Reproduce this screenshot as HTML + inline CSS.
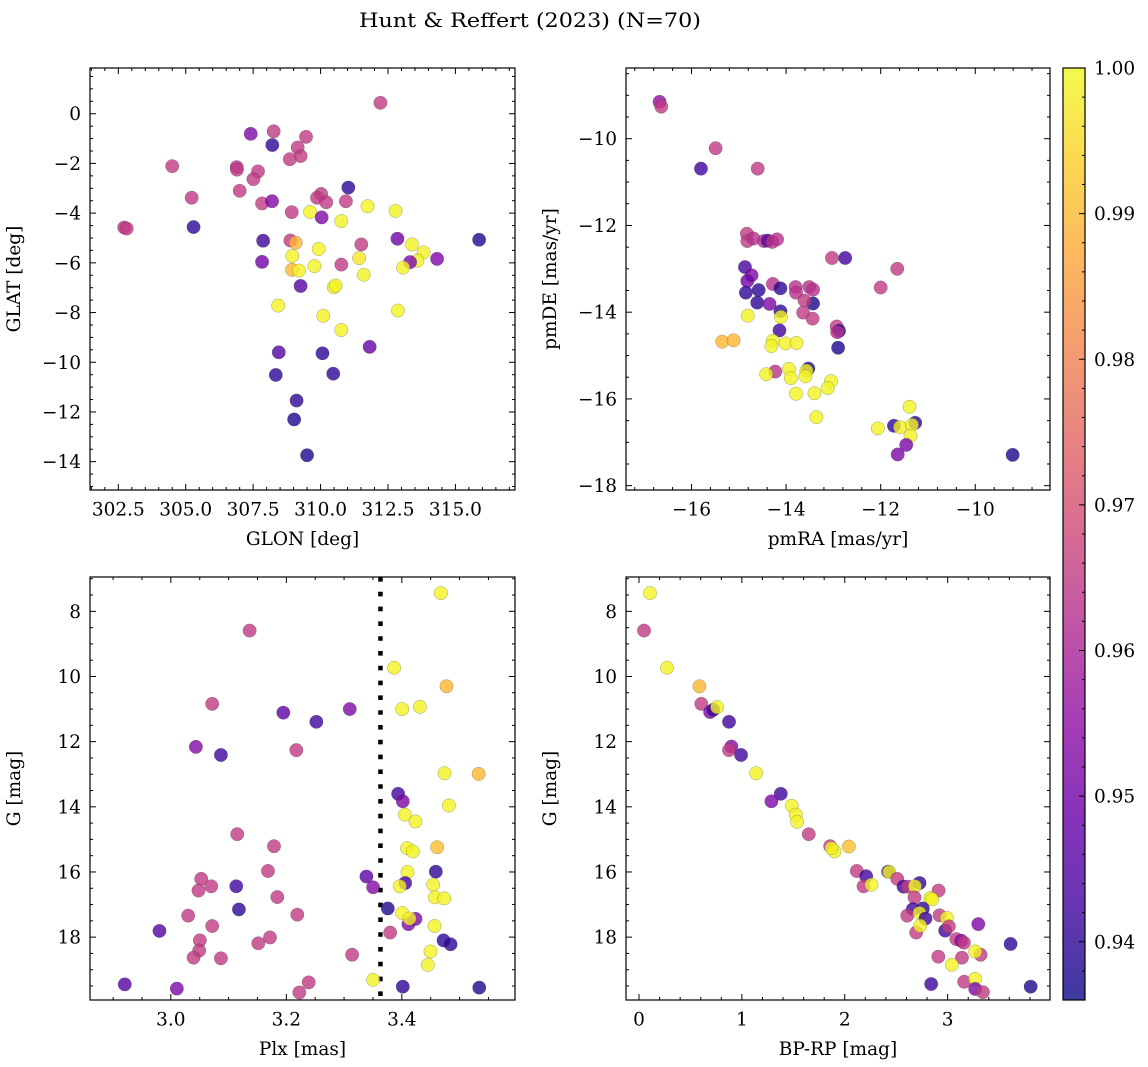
<!DOCTYPE html>
<html><head><meta charset="utf-8"><title>Hunt &amp; Reffert (2023)</title>
<style>
html,body{margin:0;padding:0;background:#fff;}
svg{display:block;font-family:"DejaVu Serif","Liberation Serif",serif;}
</style></head>
<body>
<svg id="fig" xmlns="http://www.w3.org/2000/svg" width="1148" height="1067" viewBox="0 0 1148 1067">
<rect x="0" y="0" width="1148" height="1067" fill="#fff"/>
<text x="530" y="27" font-size="19.5" text-anchor="middle" fill="#000" textLength="342" lengthAdjust="spacingAndGlyphs">Hunt &amp; Reffert (2023) (N=70)</text>
<defs>
<linearGradient id="plasmaGrad" x1="0" y1="1" x2="0" y2="0"></linearGradient>
</defs>
</svg>
<script>
// ---- Panel 1: GLON vs GLAT ----
const glon = [312.22,307.41,308.26,308.21,309.46,309.15,309.26,308.86,304.50,306.89,306.90,307.68,307.51,307.00,305.22,307.83,308.20,311.03,310.02,309.87,310.21,310.94,308.93,309.61,310.04,310.77,311.74,312.78,302.72,302.81,305.29,307.87,308.88,309.08,309.93,311.51,312.85,313.39,313.82,313.59,313.32,314.32,315.88,307.83,308.95,311.43,310.77,309.77,308.94,309.20,311.60,313.06,309.26,310.49,310.56,308.43,312.87,310.10,310.77,308.45,310.07,311.82,308.34,310.47,309.11,309.02,309.50];
const glat = [0.44,-0.81,-0.71,-1.26,-0.93,-1.36,-1.70,-1.83,-2.11,-2.15,-2.25,-2.32,-2.63,-3.10,-3.38,-3.61,-3.52,-2.97,-3.23,-3.38,-3.56,-3.52,-3.96,-3.95,-4.17,-4.32,-3.72,-3.91,-4.58,-4.62,-4.56,-5.11,-5.10,-5.19,-5.44,-5.26,-5.03,-5.26,-5.58,-5.91,-5.97,-5.84,-5.07,-5.96,-5.72,-5.81,-6.07,-6.13,-6.28,-6.31,-6.48,-6.19,-6.93,-6.98,-6.91,-7.72,-7.92,-8.13,-8.70,-9.60,-9.64,-9.38,-10.51,-10.46,-11.54,-12.30,-13.74];
const prob1 = [0.965,0.952,0.965,0.940,0.965,0.965,0.965,0.965,0.965,0.962,0.965,0.965,0.965,0.965,0.965,0.965,0.953,0.940,0.965,0.965,0.965,0.965,0.965,0.999,0.953,0.999,0.999,0.999,0.963,0.965,0.940,0.942,0.965,0.990,0.999,0.965,0.950,0.999,0.999,0.999,0.952,0.952,0.938,0.950,0.999,0.997,0.965,0.999,0.990,0.999,0.999,0.999,0.945,0.999,0.999,0.999,0.999,0.999,0.999,0.945,0.940,0.948,0.940,0.940,0.940,0.938,0.938];
// ---- Panel 2: pmRA vs pmDE ----
const pmra = [-16.675,-16.64,-15.49,-15.80,-14.60,-14.83,-14.82,-14.69,-14.47,-14.39,-14.29,-14.19,-13.03,-12.75,-11.65,-12.00,-14.87,-14.73,-14.82,-14.85,-14.58,-14.61,-14.35,-14.28,-14.12,-13.80,-13.79,-13.51,-13.43,-13.43,-13.61,-13.64,-13.44,-14.12,-14.11,-14.81,-14.14,-12.93,-12.88,-12.92,-12.90,-15.35,-15.11,-14.28,-14.31,-14.01,-13.78,-14.23,-14.42,-13.94,-13.90,-13.53,-13.57,-13.59,-13.79,-13.40,-13.05,-13.12,-13.36,-12.06,-11.72,-11.59,-11.39,-11.27,-11.34,-11.37,-11.46,-11.64,-9.21];
const pmde = [-9.15,-9.26,-10.22,-10.69,-10.69,-12.19,-12.36,-12.30,-12.36,-12.35,-12.38,-12.32,-12.75,-12.75,-13.00,-13.43,-12.96,-13.15,-13.28,-13.55,-13.49,-13.78,-13.81,-13.35,-13.45,-13.42,-13.55,-13.42,-13.48,-13.80,-13.73,-14.01,-14.15,-13.98,-14.11,-14.08,-14.42,-14.33,-14.43,-14.46,-14.82,-14.68,-14.65,-14.66,-14.78,-14.72,-14.71,-15.37,-15.43,-15.31,-15.52,-15.30,-15.35,-15.48,-15.88,-15.87,-15.59,-15.75,-16.42,-16.68,-16.62,-16.65,-16.18,-16.55,-16.60,-16.85,-17.06,-17.28,-17.29];
const prob2 = [0.955,0.965,0.965,0.942,0.965,0.965,0.965,0.963,0.963,0.945,0.963,0.963,0.965,0.942,0.965,0.965,0.943,0.952,0.950,0.940,0.940,0.940,0.952,0.963,0.940,0.963,0.963,0.963,0.963,0.938,0.965,0.965,0.965,0.940,0.999,0.999,0.942,0.965,0.940,0.963,0.938,0.990,0.990,0.999,0.999,0.999,0.999,0.963,0.999,0.999,0.999,0.938,0.999,0.999,0.999,0.999,0.999,0.999,0.999,0.999,0.940,0.999,0.999,0.940,0.999,0.999,0.952,0.952,0.938];
// ---- Panel 3: Plx vs G ----
const plx = [3.4676,3.1364,3.3867,3.4774,3.0716,3.1948,3.2520,3.3098,3.4005,3.4312,3.0433,3.0867,3.2173,3.4740,3.5330,3.3936,3.4017,3.4815,3.4052,3.4237,3.1150,3.1786,3.4092,3.4190,3.4612,3.1682,3.4098,3.4589,3.3387,3.3503,3.0526,3.0699,3.0479,3.1133,3.1844,3.4058,3.3965,3.4543,3.4572,3.4734,3.1179,3.0300,3.2190,3.3757,3.4005,3.4115,3.4237,3.4133,3.4566,2.9803,3.0716,3.3798,3.0503,3.0491,3.0393,3.0867,3.1514,3.1717,3.3139,3.4722,3.4844,3.4497,3.4451,2.9202,3.0104,3.2387,3.2225,3.3503,3.4017,3.5341];
const gmag3 = [7.44,8.59,9.73,10.30,10.84,11.11,11.39,11.00,11.00,10.93,12.16,12.41,12.26,12.97,12.99,13.60,13.83,13.96,14.24,14.45,14.84,15.21,15.27,15.37,15.24,15.97,16.00,15.99,16.14,16.47,16.21,16.44,16.57,16.44,16.77,16.34,16.44,16.39,16.78,16.81,17.15,17.34,17.31,17.12,17.26,17.60,17.44,17.43,17.66,17.81,17.66,17.86,18.10,18.41,18.63,18.65,18.19,18.01,18.54,18.10,18.22,18.44,18.85,19.45,19.58,19.39,19.70,19.31,19.52,19.55];
const prob3 = [0.999,0.965,0.999,0.990,0.965,0.947,0.942,0.953,0.999,0.999,0.953,0.942,0.965,0.999,0.990,0.942,0.952,0.999,0.999,0.999,0.965,0.965,0.999,0.999,0.991,0.965,0.999,0.940,0.947,0.953,0.965,0.965,0.965,0.942,0.965,0.942,0.999,0.999,0.999,0.999,0.940,0.965,0.965,0.938,0.999,0.952,0.952,0.999,0.999,0.945,0.965,0.965,0.965,0.965,0.965,0.965,0.965,0.965,0.965,0.940,0.940,0.999,0.999,0.945,0.952,0.965,0.965,0.999,0.940,0.938];
// ---- Panel 4: BP-RP vs G ----
const bprp = [0.107,0.049,0.272,0.587,0.606,0.691,0.723,0.759,0.875,0.898,0.875,0.992,1.138,1.378,1.287,1.485,1.524,1.537,1.650,1.858,1.900,2.040,1.871,2.117,2.208,2.182,2.260,2.422,2.432,2.510,2.571,2.613,2.727,2.682,2.912,2.678,2.831,2.850,2.662,2.759,2.607,2.727,2.785,2.921,2.694,2.733,2.976,2.993,3.012,3.084,3.132,3.158,3.298,3.612,3.320,3.268,2.909,3.139,3.041,2.840,3.161,3.268,3.268,3.343,3.807];
const gmag4 = [7.44,8.59,9.73,10.30,10.84,11.09,11.02,10.94,11.39,12.15,12.26,12.41,12.97,13.60,13.83,13.97,14.24,14.46,14.84,15.21,15.37,15.22,15.27,15.97,16.13,16.44,16.39,15.99,16.00,16.21,16.45,16.45,16.34,16.44,16.57,16.78,16.80,16.84,17.14,17.12,17.34,17.26,17.43,17.33,17.86,17.65,17.80,17.41,17.67,18.06,18.11,18.17,17.60,18.21,18.54,18.44,18.60,18.63,18.85,19.44,19.37,19.28,19.59,19.69,19.52];
const prob4 = [0.999,0.965,0.999,0.990,0.965,0.952,0.942,0.999,0.942,0.953,0.965,0.942,0.999,0.942,0.952,0.999,0.999,0.999,0.965,0.965,0.999,0.991,0.999,0.965,0.942,0.965,0.999,0.940,0.999,0.965,0.942,0.965,0.940,0.999,0.965,0.965,0.999,0.999,0.942,0.940,0.965,0.999,0.942,0.965,0.965,0.999,0.942,0.999,0.965,0.965,0.953,0.965,0.952,0.940,0.965,0.999,0.965,0.965,0.999,0.942,0.965,0.999,0.952,0.965,0.938];
// ---- colorbar ----
const cbTicks = [0.94,0.95,0.96,0.97,0.98,0.99,1.00];
const cbMin = 0.936, cbMax = 1.0;
const plxCut = 3.363;

const NS = "http://www.w3.org/2000/svg";
const svg = document.getElementById('fig');
const plasma = ["#0d0887","#41049d","#6a00a8","#8f0da4","#b12a90","#cc4778","#e16462","#f2844b","#fca636","#fcce25","#f0f921"];
function hex(h){return [parseInt(h.substr(1,2),16),parseInt(h.substr(3,2),16),parseInt(h.substr(5,2),16)];}
function cmap(v){
  let t=(v-cbMin)/(cbMax-cbMin); t=Math.max(0,Math.min(1,t));
  const f=t*10, i=Math.min(9,Math.floor(f)), r=f-i;
  const a=hex(plasma[i]), b=hex(plasma[i+1]);
  return 'rgb('+a.map((c,k)=>Math.round(c+(b[k]-c)*r)).join(',')+')';
}
function el(tag, attrs, parent){
  const e=document.createElementNS(NS,tag);
  for(const k in attrs) e.setAttribute(k,attrs[k]);
  (parent||svg).appendChild(e); return e;
}
const fmt0 = v => (Math.abs(v)<1e-9?'0':(v<0?'\u2212':'')+Math.abs(Math.round(v)));
const fmt1 = v => (v<0?'\u2212':'')+Math.abs(v).toFixed(1);
const FS = 18.5;

const panels = [
 {key:'sky', L:90,T:68,R:515,B:490, xmin:301.45,xmax:317.21, ymin:-15.14,ymax:1.84, inv:false,
  xs:glon, ys:glat, cs:prob1, xmaj:2.5, xmin_:0.5, ymaj:2, ymin_:0.5, fx:fmt1, fy:fmt0, xl:'GLON [deg]', yl:'GLAT [deg]'},
 {key:'pm', L:626,T:68,R:1050,B:490, xmin:-17.385,xmax:-8.42, ymin:-18.10,ymax:-8.37, inv:false,
  xs:pmra, ys:pmde, cs:prob2, xmaj:2, xmin_:0.4, ymaj:2, ymin_:0.5, fx:fmt0, fy:fmt0, xl:'pmRA [mas/yr]', yl:'pmDE [mas/yr]'},
 {key:'plx', L:90,T:577,R:515,B:1000, xmin:2.860,xmax:3.596, ymin:6.946,ymax:19.93, inv:true,
  xs:plx, ys:gmag3, cs:prob3, xmaj:0.2, xmin_:0.05, ymaj:2, ymin_:0.5, fx:fmt1, fy:fmt0, xl:'Plx [mas]', yl:'G [mag]'},
 {key:'cmd', L:626,T:577,R:1050,B:1000, xmin:-0.1265,xmax:3.995, ymin:6.946,ymax:19.93, inv:true,
  xs:bprp, ys:gmag4, cs:prob4, xmaj:1, xmin_:0.2, ymaj:2, ymin_:0.5, fx:fmt0, fy:fmt0, xl:'BP-RP [mag]', yl:'G [mag]'}
];

function ticksFor(lo,hi,step){
  const out=[]; const s=Math.ceil(lo/step-1e-9), e=Math.floor(hi/step+1e-9);
  for(let i=s;i<=e;i++) out.push(+(i*step).toFixed(6));
  return out;
}

panels.forEach(p=>{
  const sx = v => p.L + (v-p.xmin)/(p.xmax-p.xmin)*(p.R-p.L);
  const sy = v => p.inv ? p.T + (v-p.ymin)/(p.ymax-p.ymin)*(p.B-p.T)
                        : p.B - (v-p.ymin)/(p.ymax-p.ymin)*(p.B-p.T);
  const g = el('g',{});
  
  
  const clipId='clip-'+p.key;
  const cp=el('clipPath',{id:clipId},g);
  el('rect',{x:p.L,y:p.T,width:p.R-p.L,height:p.B-p.T},cp);
  const pts = el('g',{'clip-path':'url(#'+clipId+')'},g);
  
  
  if(p.key==='plx'){
    const ln = el('line',{x1:sx(plxCut),x2:sx(plxCut),y1:p.T,y2:p.B,stroke:'#000','stroke-width':4.5,'stroke-dasharray':'4.6 10.2'},pts);
    
    
  }
  for(let i=0;i<p.xs.length;i++){
    const c = el('circle',{cx:sx(p.xs[i]).toFixed(2),cy:sy(p.ys[i]).toFixed(2),r:6.7,fill:cmap(p.cs[i]),'fill-opacity':0.8,stroke:'rgba(60,60,60,0.45)','stroke-width':0.5},pts);
    
    
  }
  const fr = el('rect',{x:p.L,y:p.T,width:p.R-p.L,height:p.B-p.T,fill:'none',stroke:'#000','stroke-width':1.2},g);
  
  
  const tk = el('g',{stroke:'#000','stroke-width':1},g);
  ticksFor(p.xmin,p.xmax,p.xmin_).forEach(v=>{
    const x=sx(v); const maj = Math.abs(v/p.xmaj-Math.round(v/p.xmaj))<1e-6; const l=maj?6:3;
    el('line',{x1:x,x2:x,y1:p.B,y2:p.B-l},tk); el('line',{x1:x,x2:x,y1:p.T,y2:p.T+l},tk);
  });
  ticksFor(p.ymin,p.ymax,p.ymin_).forEach(v=>{
    const y=sy(v); const maj = Math.abs(v/p.ymaj-Math.round(v/p.ymaj))<1e-6; const l=maj?6:3;
    el('line',{x1:p.L,x2:p.L+l,y1:y,y2:y},tk); el('line',{x1:p.R,x2:p.R-l,y1:y,y2:y},tk);
  });
  ticksFor(p.xmin,p.xmax,p.xmaj).forEach(v=>{
    const t=el('text',{x:sx(v),y:p.B+25.5,'font-size':FS,'text-anchor':'middle'},g);
    t.textContent=p.fx(v);
    
    
  });
  ticksFor(p.ymin,p.ymax,p.ymaj).forEach(v=>{
    const t=el('text',{x:p.L-9,y:sy(v)+6.5,'font-size':FS,'text-anchor':'end'},g);
    t.textContent=p.fy(v);
    
    
  });
  const xt=el('text',{x:(p.L+p.R)/2,y:p.B+55,'font-size':FS,'text-anchor':'middle'},g);
  xt.textContent=p.xl;
  
  
  const yx=p.L-70, yy=(p.T+p.B)/2;
  const yt=el('text',{x:yx,y:yy,'font-size':FS,'text-anchor':'middle',transform:'rotate(-90 '+yx+' '+yy+')'},g);
  yt.textContent=p.yl;
  
  
});

const grad=document.getElementById('plasmaGrad');
plasma.forEach((c,i)=>{ el('stop',{offset:(i/10),'stop-color':c,'stop-opacity':0.8},grad); });
const CB={L:1063,R:1085,T:68,B:1000};
const cy = v => CB.B - (v-cbMin)/(cbMax-cbMin)*(CB.B-CB.T);
const cbg = el('g',{});


el('rect',{x:CB.L,y:CB.T,width:CB.R-CB.L,height:CB.B-CB.T,fill:'url(#plasmaGrad)'},cbg);
el('rect',{x:CB.L,y:CB.T,width:CB.R-CB.L,height:CB.B-CB.T,fill:'none',stroke:'#000','stroke-width':1.2},cbg);
ticksFor(cbMin,cbMax,0.002).forEach(v=>{
  const maj=Math.abs(v/0.01-Math.round(v/0.01))<1e-6; const y=cy(v);
  el('line',{x1:CB.R,x2:CB.R-(maj?6:3),y1:y,y2:y,stroke:'#000','stroke-width':1},cbg);
});
cbTicks.forEach(v=>{
  const t=el('text',{x:CB.R+9,y:cy(v)+6.5,'font-size':FS},cbg);
  t.textContent=v.toFixed(2);
  
  
});
</script>
</body></html>
